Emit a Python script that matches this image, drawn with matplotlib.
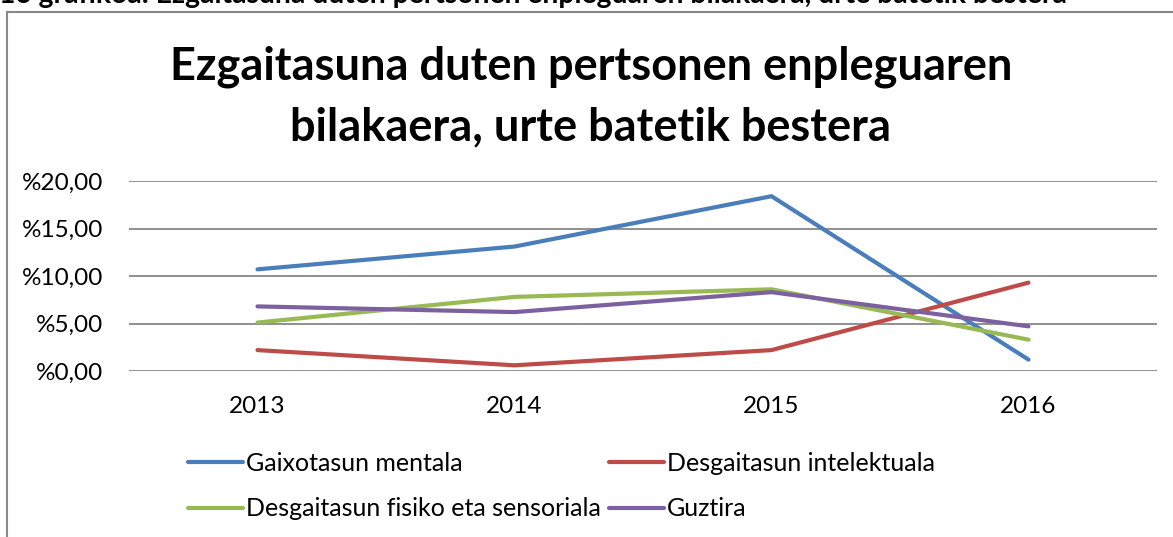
import matplotlib
matplotlib.use("Agg")
import matplotlib.pyplot as plt
from matplotlib.patches import Rectangle

years = ["2013", "2014", "2015", "2016"]
mental = [10.7, 13.1, 18.4, 1.2]
intelektual = [2.2, 0.6, 2.2, 9.3]
fisiko = [5.1, 7.8, 8.6, 3.3]
guztira = [6.8, 6.2, 8.3, 4.7]
series_names = ["Gaixotasun mentala", "Desgaitasun intelektuala",
                "Desgaitasun fisiko eta sensoriala", "Guztira"]
yticks = [0, 5, 10, 15, 20]
ytick_labels = ["%0,00", "%5,00", "%10,00", "%15,00", "%20,00"]

colors = ["#4A7EBB", "#BE4B48", "#98B954", "#7D60A0"]
plt.rcParams['font.family'] = ['Lato', 'DejaVu Sans']

W, H = 1173, 537
fig = plt.figure(figsize=(W/100, H/100), dpi=100)

# chart border (right and bottom edges lie outside the picture)
fig.patches.append(Rectangle((7/W, -0.05), 1.1, (H-12)/H + 0.05,
                             transform=fig.transFigure, fill=False,
                             edgecolor="#888888", linewidth=1.5))
# cut-off caption at top
fig.text(-1/W, 1 - 3/H, "16 grafikoa: Ezgaitasuna duten pertsonen enpleguaren bilakaera, urte batetik bestera",
         ha="left", va="baseline", fontsize=20.3, fontweight="bold", color="black")

ax = fig.add_axes([129/W, (H-371)/H, (1157-129)/W, (371-181)/H])
x = list(range(len(years)))
for vals, name, c in zip([mental, intelektual, fisiko, guztira], series_names, colors):
    ax.plot(x, vals, color=c, linewidth=3.0, label=name, solid_capstyle="round")

ax.set_xlim(-0.5, 3.5)
ax.set_ylim(0, 20)
ax.set_yticks(yticks)
ax.set_yticklabels(ytick_labels, fontsize=17.5)
ax.set_xticks(x)
ax.set_xticklabels(years, fontsize=17.5)
ax.grid(axis="y", color="#878787", linewidth=1.3)
ax.set_axisbelow(True)
for s in ax.spines.values():
    s.set_visible(False)
ax.tick_params(axis="both", length=0)
ax.tick_params(axis="x", pad=18)
ax.tick_params(axis="y", pad=18.5)

fig.text(591/W, 1 - 67/H, "Ezgaitasuna duten pertsonen enpleguaren",
         ha="center", va="center", fontsize=32.5, fontweight="bold")
fig.text(591/W, 1 - 127/H, "bilakaera, urte batetik bestera",
         ha="center", va="center", fontsize=32.5, fontweight="bold")

handles, labels = ax.get_legend_handles_labels()
order = [0, 2, 1, 3]
leg = fig.legend([handles[i] for i in order], [labels[i] for i in order],
                 ncol=2, loc="center left", bbox_to_anchor=(188/W, 1 - 486/H),
                 frameon=False, fontsize=18, handlelength=2.2,
                 handletextpad=0.1, columnspacing=0.36, labelspacing=0.9,
                 borderaxespad=0, borderpad=0)

fig.savefig("out.png", dpi=100)
